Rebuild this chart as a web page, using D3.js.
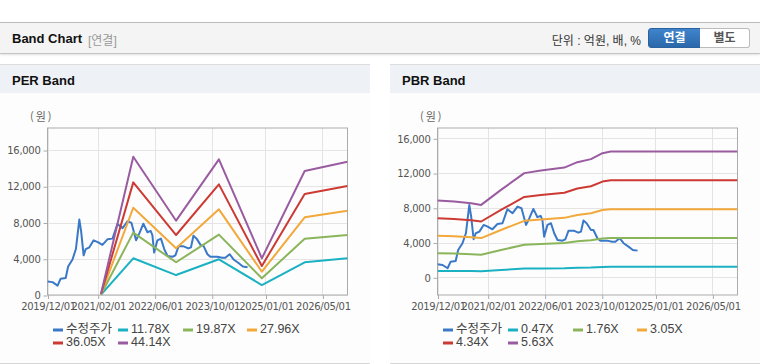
<!DOCTYPE html>
<html lang="ko">
<head>
<meta charset="utf-8">
<title>Band Chart</title>
<script src="https://cdn.jsdelivr.net/npm/d3@7"></script>
<style>
  body { margin:0; width:760px; height:364px; background:#fff; position:relative; overflow:hidden;
         font-family:"Liberation Sans", Arial, "Noto Sans CJK KR", sans-serif; }
  .topbar { position:absolute; left:0; top:22px; width:760px; height:30px; background:#f4f4f4;
            border-top:1px solid #bdbdbd; border-bottom:1px solid #c4c4c4; box-shadow:0 1px 2px rgba(0,0,0,0.12); }
  .title { position:absolute; left:12px; top:8px; font-size:13px; font-weight:bold; color:#111; }
  .sub { position:absolute; left:88px; top:8px; font-size:12px; color:#999; }
  .unit { position:absolute; right:119px; top:8px; font-size:12px; color:#333; }
  .btn { position:absolute; top:5px; height:18px; line-height:18px; font-size:12px; font-weight:bold; text-align:center; }
  .on { left:648px; width:51px; background:linear-gradient(#3f84cc,#2a67aa); border:1px solid #2a62a0;
        border-radius:3px 0 0 3px; color:#fff; }
  .off { left:700px; width:49px; background:#fff; border:1px solid #bbb; border-left:none;
         border-radius:0 3px 3px 0; color:#555; }
  .panel { position:absolute; top:64px; width:370px; height:298px; background:#fdfdfd;
           border-top:1px solid #dcdcdc; border-bottom:1px solid #d6d6d6; }
  .phead { height:28px; background:#eef2f7; font-size:13px; font-weight:bold; color:#111; line-height:31px; padding-left:12px; }
  .chart { position:absolute; top:0; width:370px; height:364px; }
</style>
</head>
<body>

<div class="topbar">
  <div class="title">Band Chart</div>
  <div class="sub">[연결]</div>
  <div class="unit">단위 : 억원, 배, %</div>
  <div class="btn on">연결</div>
  <div class="btn off">별도</div>
</div>

<div class="panel" style="left:0"><div class="phead">PER Band</div></div>
<div class="panel" style="left:390px"><div class="phead">PBR Band</div></div>
<div class="chart" id="per" style="left:0"></div>
<div class="chart" id="pbr" style="left:390px"></div>

<script>
// data
var priceDates = ['2019-12-01','2020-01-13','2020-02-25','2020-03-22','2020-05-04','2020-05-25','2020-07-01',
  '2020-07-30','2020-08-13','2020-08-28','2020-09-13','2020-10-04','2020-10-22','2020-11-22','2020-12-28',
  '2021-02-01','2021-03-13','2021-04-25','2021-06-07','2021-07-19','2021-09-01','2021-10-13','2021-11-16',
  '2021-12-25','2022-01-22','2022-02-25','2022-04-01','2022-04-28','2022-05-13','2022-05-28','2022-06-25',
  '2022-07-25','2022-08-22','2022-09-19','2022-11-01','2022-11-25','2022-12-22','2023-02-03','2023-03-16',
  '2023-04-07','2023-04-28','2023-05-25','2023-07-01','2023-07-22','2023-08-25','2023-09-19','2023-11-16',
  '2023-12-28','2024-01-25','2024-03-01','2024-04-04','2024-05-16','2024-06-22','2024-08-01'];
var priceValues = [1500,1420,1040,1800,1880,3150,3920,5070,6600,8330,6990,4380,5070,5260,6030,
  5830,5530,6140,6220,7840,7380,8140,7950,6030,6800,7870,6920,7070,6600,4680,6030,
  6220,5070,4300,4220,4380,5370,5370,5140,5260,6530,6220,5450,5450,4500,4220,4220,
  4100,4100,4500,3920,3530,3150,3070];

var perDates = ['2021-03-01','2021-12-01','2022-12-01','2023-12-01','2024-12-01','2025-12-01','2026-12-01'];
var perLabels = ['11.78X','19.87X','27.96X','36.05X','44.14X'];
var per1178 = [35, 4050, 2200, 3940, 1100, 3610, 4050];
var per1987 = [60, 6880, 3610, 6660, 1840, 6210, 6620];
var per2796 = [80, 9630, 5150, 9450, 2570, 8570, 9300];
var per3605 = [105, 12430, 6620, 12210, 3200, 11140, 12030];
var per4414 = [130, 15260, 8200, 14970, 4050, 13680, 14710];

var pbrDates = ['2019-12-01','2020-04-21','2020-09-13','2020-12-07','2021-05-25','2021-12-10','2022-05-01',
  '2022-11-16','2023-03-07','2023-07-01','2023-10-07','2023-12-16','2026-12-01'];
var pbrLabels = ['0.47X','1.76X','3.05X','4.34X','5.63X'];
var pbr047 = [737, 728, 712, 696, 840, 1001, 1026, 1054, 1106, 1136, 1193, 1209, 1209];
var pbr176 = [2760, 2726, 2666, 2605, 3145, 3749, 3842, 3948, 4143, 4252, 4467, 4527, 4527];
var pbr305 = [4782, 4724, 4621, 4514, 5450, 6497, 6658, 6841, 7180, 7369, 7741, 7845, 7845];
var pbr434 = [6805, 6723, 6575, 6423, 7756, 9244, 9474, 9735, 10216, 10485, 11015, 11162, 11162];
var pbr563 = [8828, 8721, 8529, 8332, 10061, 11992, 12290, 12628, 13253, 13602, 14289, 14480, 14480];

var xTickLabels = ['2019/12/01','2021/02/01','2022/06/01','2023/10/01','2025/01/01','2026/05/01'];
var yTicks = [0, 4000, 8000, 12000, 16000];
var colors = ['#3a78c8','#1ab1c2','#8ab55a','#f2a83a','#cc3a33','#9a5ca0'];

var parse = d3.timeParse('%Y-%m-%d');
var parseTick = d3.timeParse('%Y/%m/%d');

function drawBand(id, yBottom, yTop, bandDates, bands, labels) {
  var svg = d3.select(id).append('svg').attr('width', 370).attr('height', 364);
  var L = 47.5, R = 347.5, T = 128, B = 295;

  var x = d3.scaleTime().domain([parse('2019-12-01'), parse('2026-12-01')]).range([L, R]);
  var y = d3.scaleLinear().domain([0, 16000]).range([yBottom, yTop]);

  // grid
  var tickDates = xTickLabels.map(parseTick);
  svg.selectAll('.vg').data(tickDates).enter().append('line')
    .attr('x1', function (d) { return Math.round(x(d)) + 0.5; })
    .attr('x2', function (d) { return Math.round(x(d)) + 0.5; })
    .attr('y1', T).attr('y2', B).attr('stroke', '#e4e4e4');
  svg.selectAll('.hg').data(yTicks).enter().append('line')
    .attr('x1', L).attr('x2', R)
    .attr('y1', function (d) { return Math.round(y(d)) + 0.5; })
    .attr('y2', function (d) { return Math.round(y(d)) + 0.5; })
    .attr('stroke', '#e4e4e4');

  // axes
  var ya = svg.append('g').attr('transform', 'translate(' + L + ',0.5)')
    .call(d3.axisLeft(y).tickValues(yTicks).tickSize(4).tickPadding(3).tickFormat(d3.format(',')));
  var xa = svg.append('g').attr('transform', 'translate(0.5,' + B + ')')
    .call(d3.axisBottom(x).tickValues(tickDates).tickSize(4).tickPadding(4).tickFormat(d3.timeFormat('%Y/%m/%d')));
  [ya, xa].forEach(function (a) {
    a.select('.domain').remove();
    a.selectAll('line').attr('stroke', '#aaa');
    a.selectAll('text').attr('fill', '#555').style('font-size', '10px')
      .style('font-family', '"DejaVu Sans", "Liberation Sans", sans-serif').style('letter-spacing', '-0.3px');
  });

  svg.append('rect').attr('x', L).attr('y', T).attr('width', R - L).attr('height', B - T)
    .attr('fill', 'none').attr('stroke', '#ababab');

  svg.append('text').attr('x', 30).attr('y', 118)
    .attr('dominant-baseline', 'middle').attr('fill', '#666')
    .style('font-size', '11px').style('font-family', '"Noto Sans CJK KR", sans-serif')
    .style('letter-spacing', '2px').text('(원)');

  // lines
  var line = d3.line()
    .x(function (d) { return x(d.date); })
    .y(function (d) { return y(d.v); });

  svg.append('clipPath').attr('id', id.slice(1) + 'clip').append('rect')
    .attr('x', L).attr('y', T).attr('width', R - L).attr('height', B - T);
  var g = svg.append('g').attr('clip-path', 'url(#' + id.slice(1) + 'clip)');

  var series = [priceDates.map(function (d, i) { return { date: parse(d), v: priceValues[i] }; })];
  bands.forEach(function (b) {
    series.push(bandDates.map(function (d, i) { return { date: parse(d), v: b[i] }; }));
  });
  series.forEach(function (s, i) {
    g.append('path').datum(s).attr('d', line).attr('fill', 'none')
      .attr('stroke', colors[i]).attr('stroke-width', 2).attr('stroke-linejoin', 'round');
  });

  // legend
  var names = ['수정주가'].concat(labels);
  var lx = [53, 118, 183, 247];
  var lg = svg.selectAll('.lg').data(names).enter().append('g')
    .attr('transform', function (d, i) { return 'translate(' + lx[i % 4] + ',' + (i < 4 ? 330 : 343) + ')'; });
  lg.append('line').attr('x1', 0).attr('x2', 10).attr('y1', 0).attr('y2', 0)
    .attr('stroke', function (d, i) { return colors[i]; }).attr('stroke-width', 3);
  lg.append('text').attr('x', 13).attr('y', 0).attr('dominant-baseline', 'middle')
    .attr('fill', '#444').style('font-size', '12.5px').text(function (d) { return d; });
}

drawBand('#per', 295, 150, perDates, [per1178, per1987, per2796, per3605, per4414], perLabels);
drawBand('#pbr', 277.3, 138.3, pbrDates, [pbr047, pbr176, pbr305, pbr434, pbr563], pbrLabels);
</script>
</body>
</html>
